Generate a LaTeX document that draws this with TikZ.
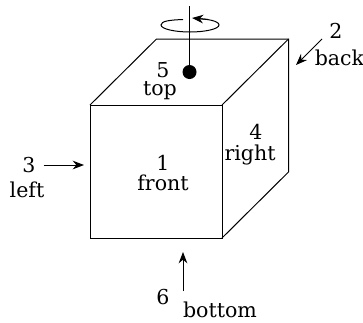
\documentclass[tikz,border=0pt]{standalone}
\usepackage{fontspec}
\setmainfont{DejaVu Serif}
\usetikzlibrary{arrows.meta}
\tikzset{
  edge/.style={draw=black,line width=0.75pt},
  pointer/.style={draw=black,line width=0.75pt,-{Stealth[length=8.5pt,width=6.5pt]}},
  lab/.style={inner sep=0pt,font=\fontsize{15.4pt}{17pt}\selectfont}
}
\begin{document}
\begin{tikzpicture}[x=0.75pt,y=-0.75pt]
\useasboundingbox (0,0) rectangle (363,322);
\coordinate (fa) at (90,105);
\coordinate (fb) at (222,105);
\coordinate (fc) at (222,238);
\coordinate (fd) at (90,238);
\coordinate (ba) at (156.5,39);
\coordinate (bb) at (288.5,39);
\coordinate (bc) at (288.5,172);
\draw[edge] (fa) -- (fb) -- (fc) -- (fd) -- cycle;
\draw[edge] (fa) -- (ba) -- (bb) -- (bc) -- (fc);
\draw[edge] (fb) -- (bb);
% axis and rotation
\coordinate (axtop) at (189.5,6);
\node[circle,fill=black,inner sep=0pt,minimum size=10.5pt] (dot) at (189.5,72) {};
\draw[edge] (axtop) -- (dot);
\coordinate (rotstart) at (183,19.5);
\coordinate (rottip) at (192,18);
\draw[edge] (rotstart) .. controls (170,20) and (161,21) .. (161,25)
  .. controls (161,29) and (175,32) .. (190,32)
  .. controls (205,32) and (219,29) .. (219,25)
  .. controls (219,21) and (208,19) .. (196,18.5);
\draw[pointer] (208,19.5) -- (rottip);
% labels
\node[lab] (n1) at (163,163) {1};
\node[lab] (t1) at (163,183) {front};
\node[lab] (n2) at (336,31) {2};
\node[lab] (t2) at (339.5,58) {back};
\node[lab] (n3) at (29,165) {3};
\node[lab] (t3) at (27,190) {left};
\node[lab] (n4) at (256,132) {4};
\node[lab] (t4) at (250,155) {right};
\node[lab] (n5) at (163,70) {5};
\node[lab] (t5) at (160,91) {top};
\node[lab] (n6) at (163,297) {6};
\node[lab] (t6) at (220,310) {bottom};
% pointers
\coordinate (p2a) at (322,39);
\coordinate (p2b) at (296,65);
\coordinate (p3a) at (43.5,165);
\coordinate (p3b) at (84,165);
\coordinate (p6a) at (183,291);
\coordinate (p6b) at (183,252);
\draw[pointer] (p2a) -- (p2b);
\draw[pointer] (p3a) -- (p3b);
\draw[pointer] (p6a) -- (p6b);
\end{tikzpicture}
\end{document}
